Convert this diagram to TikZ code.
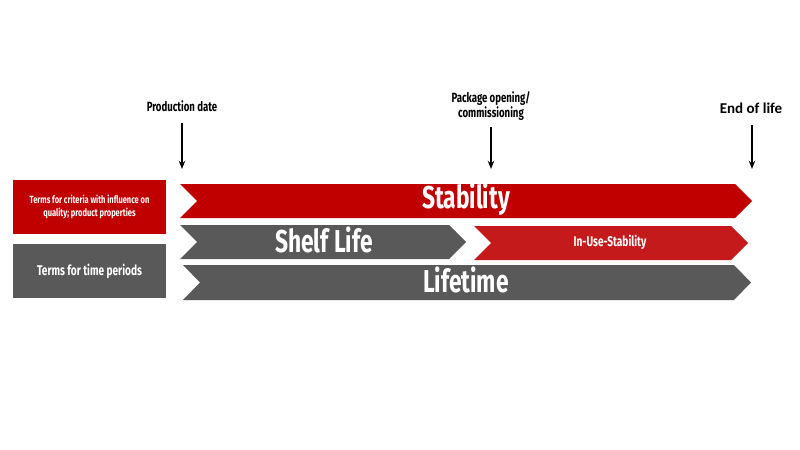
\documentclass[tikz,border=0pt]{standalone}
\usepackage{fontspec}
\newfontfamily\condfont{Fira Sans}[FakeStretch=0.72]
\newfontfamily\calfont{Carlito}
\usepackage{xcolor}
\usepackage{tikz}
\usetikzlibrary{arrows.meta}
\definecolor{darkred}{HTML}{C00000}
\definecolor{lightred}{HTML}{C41A1C}
\definecolor{slate}{HTML}{595959}
\begin{document}
\begin{tikzpicture}[x=0.03cm,y=-0.03cm,
  big/.style={text=white,font=\condfont\bfseries\fontsize{27}{27}\selectfont,inner sep=0},
  small/.style={text=white,font=\condfont\bfseries\fontsize{12}{12}\selectfont,inner sep=0},
  tick/.style={font=\condfont\bfseries\fontsize{11.4}{13.5}\selectfont,align=center,inner sep=1pt},
  legend/.style={text=white,font=\condfont\bfseries\fontsize{8.9}{11}\selectfont,align=center},
  arr/.style={-{Stealth[length=7pt,width=5.5pt]},line width=1.1pt,black,shorten <=9pt}]
  \useasboundingbox (0,0) rectangle (800,450);
  % legend boxes
  \fill[darkred] (13,180) rectangle (166,234);
  \fill[slate] (13,244) rectangle (166,298);
  \node[legend] (crit) at (89.5,207) {Terms for criteria with influence on\\quality; product properties};
  \node[legend,font=\condfont\bfseries\fontsize{12}{13}\selectfont] (time) at (89.5,271) {Terms for time periods};
  % chevrons
  \fill[darkred] (180,184)--(735,184)--(752,201)--(735,218)--(180,218)--(197,201)--cycle;
  \fill[slate] (180,225)--(449,225)--(466,242)--(449,259)--(180,259)--(197,242)--cycle;
  \fill[lightred] (474,226)--(731,226)--(748,243)--(731,260)--(474,260)--(491,243)--cycle;
  \fill[slate] (183,265)--(734,265)--(751,282.5)--(734,300)--(183,300)--(200,282.5)--cycle;
  \node[big] (stab) at (466,199) {Stability};
  \node[big] (shelf) at (324,240) {Shelf Life};
  \node[small] (inuse) at (610,242) {In-Use-Stability};
  \node[big] (life) at (466,280) {Lifetime};
  % time marks
  \node[tick] (prod) at (182,106) {Production date};
  \node[tick] (open) at (491,106) {Package opening/\\commissioning};
  \node[tick,font=\calfont\bfseries\fontsize{12.8}{14}\selectfont] (eol) at (751,108) {End of life};
  \coordinate (p1) at (182,169);
  \coordinate (p2) at (491,169);
  \coordinate (p3) at (752,169);
  \draw[arr] (prod.south -| p1)--(p1);
  \draw[arr,shorten <=4pt] (open.south -| p2)--(p2);
  \draw[arr] (eol.south -| p3)--(p3);
\end{tikzpicture}
\end{document}
